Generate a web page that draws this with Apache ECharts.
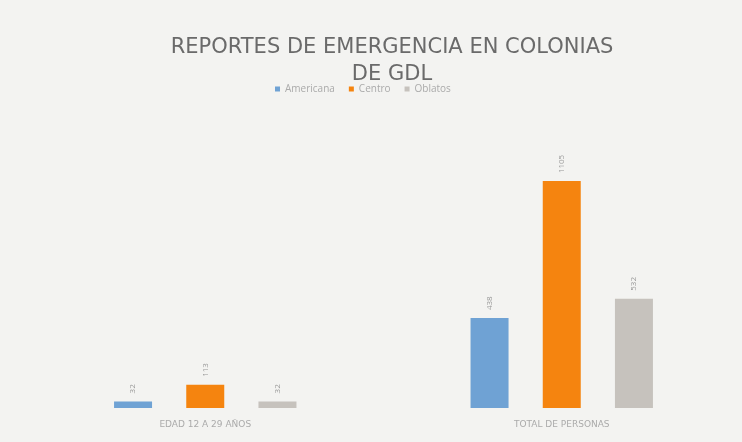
<!DOCTYPE html>
<html>
<head>
<meta charset="utf-8">
<script src="https://cdn.jsdelivr.net/npm/echarts@6/dist/echarts.min.js"></script>
<style>
  html, body { margin: 0; padding: 0; background: #f3f3f1; }
  #chart { width: 742px; height: 442px; }
</style>
</head>
<body>
<div id="chart"></div>
<script>
var categories = ['EDAD 12 A 29 AÑOS', 'TOTAL DE PERSONAS']
var seriesNames = ['Americana', 'Centro', 'Oblatos']
var americana = [32, 438]
var centro = [113, 1105]
var oblatos = [32, 532]

var colors = ['#6fa2d4', '#f5840f', '#c6c2bd']

var chart = echarts.init(document.getElementById('chart'))

function makeSeries (name, data, i) {
  return {
    name: name,
    type: 'bar',
    data: data,
    barWidth: 38,
    barGap: '90%',
    itemStyle: { color: colors[i] },
    label: {
      show: true,
      position: 'top',
      rotate: 90,
      align: 'left',
      verticalAlign: 'middle',
      distance: 8,
      color: '#999',
      fontSize: 8,
      fontFamily: 'Open Sans'
    }
  }
}

chart.setOption({
  backgroundColor: '#f3f3f1',
  title: {
    text: 'REPORTES DE EMERGENCIA EN COLONIAS\nDE GDL',
    left: 387,
    textAlign: 'center',
    top: 29,
    textStyle: {
      color: '#6a6a6a',
      fontSize: 21,
      fontWeight: 'normal',
      fontFamily: 'DejaVu Sans',
      lineHeight: 27
    }
  },
  legend: {
    data: seriesNames,
    top: 79,
    left: 270,
    itemWidth: 5,
    itemHeight: 5,
    itemGap: 14,
    icon: 'rect',
    textStyle: { color: '#aaa', fontSize: 10, fontFamily: 'Open Sans' }
  },
  grid: {
    left: 27,
    right: 2,
    top: 100,
    bottom: 34
  },
  xAxis: {
    type: 'category',
    data: categories,
    axisLine: { show: false },
    axisTick: { show: false },
    axisLabel: {
      color: '#aaa',
      fontSize: 9,
      fontFamily: 'DejaVu Sans',
      margin: 12
    }
  },
  yAxis: {
    type: 'value',
    min: 0,
    max: 1500,
    show: false,
    splitLine: { show: false }
  },
  series: [
    makeSeries(seriesNames[0], americana, 0),
    makeSeries(seriesNames[1], centro, 1),
    makeSeries(seriesNames[2], oblatos, 2)
  ]
})
</script>
</body>
</html>
